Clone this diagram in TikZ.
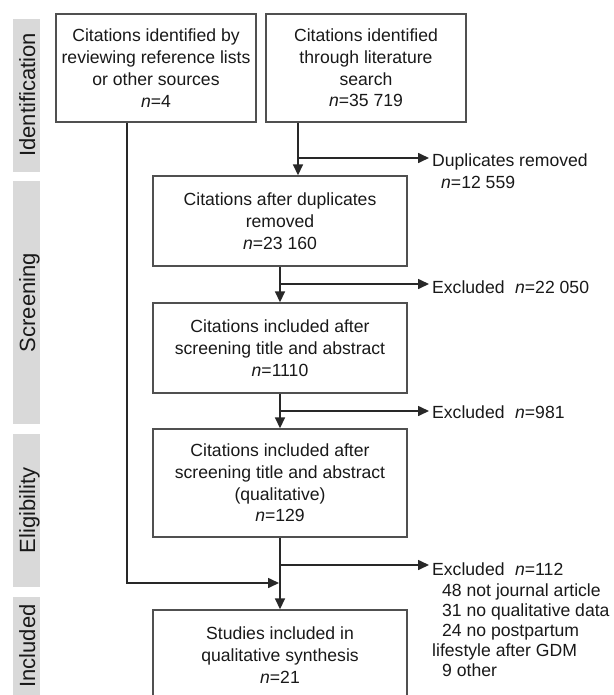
\documentclass[tikz,border=0pt]{standalone}
\usepackage{fontspec}
\setmainfont{Liberation Sans}
\usetikzlibrary{arrows.meta}
\definecolor{barc}{RGB}{217,217,217}
\definecolor{boxc}{RGB}{80,80,80}
\definecolor{linec}{RGB}{40,40,40}
\definecolor{txt}{RGB}{25,25,25}
\begin{document}
\begin{tikzpicture}[x=1pt,y=-1pt,
  box/.style={draw=boxc, line width=1.4pt, minimum width=200pt, minimum height=108pt, inner sep=0pt, align=center, font=\fontsize{17.6}{21.8}\selectfont, text=txt},
  wbox/.style={box, minimum width=254pt},
  arr/.style={draw=linec, line width=1.6pt, -{Triangle[length=11pt,width=10pt]}},
  bar/.style={fill=barc, draw=none},
  barlabel/.style={rotate=90, anchor=base, inner sep=0pt, font=\fontsize{22}{26}\selectfont, text=txt},
  side/.style={anchor=base west, inner sep=0pt, font=\fontsize{17.6}{20}\selectfont, text=txt}]
\useasboundingbox (0,0) rectangle (613,695);
\clip (0,0) rectangle (613,695);
\fill[white] (0,0) rectangle (613,695);
% phase bars
\fill[bar] (13,19) rectangle (40,172);
\fill[bar] (13,181) rectangle (40,424);
\fill[bar] (13,434) rectangle (40,587);
\fill[bar] (13,597) rectangle (40,700);
\node[barlabel] (L1) at (35,95) {Identification};
\node[barlabel] (L2) at (35,302.5) {Screening};
\node[barlabel] (L3) at (35,510.5) {Eligibility};
\node[barlabel] (L4) at (35,646) {Included};
% boxes
\node[box] (B1) at (156,68) {Citations identified by\\reviewing reference lists\\or other sources\\\textit{n}=4};
\node[box] (B2) at (366,68) {Citations identified\\through literature\\search\\\textit{n}=35 719};
\node[wbox, minimum height=90pt] (B3) at (280,221) {Citations after duplicates\\removed\\\textit{n}=23 160};
\node[wbox, minimum height=90pt] (B4) at (280,348) {Citations included after\\screening title and abstract\\\textit{n}=1110};
\node[wbox, minimum height=108pt] (B5) at (280,483) {Citations included after\\screening title and abstract\\(qualitative)\\\textit{n}=129};
\node[wbox, minimum height=90pt] (B6) at (280,655) {Studies included in\\qualitative synthesis\\\textit{n}=21};
% helper coordinates
\coordinate (lx) at (127,0);
\coordinate (rx) at (298,0);
\coordinate (ex) at (429,0);
\coordinate (j0) at (298,158);
\coordinate (j1) at (280,284);
\coordinate (j2) at (280,411);
\coordinate (j3) at (280,565);
\coordinate (j4) at (280,583);
% side texts
\node[side] (D1) at (432,167) {Duplicates removed};
\node[side] (D2) at (441,188) {\textit{n}=12 559};
\node[side] (E1) at (432,293) {Excluded\hspace{0.6em}\textit{n}=22 050};
\node[side] (E2) at (432,418) {Excluded\hspace{0.6em}\textit{n}=981};
\node[side] (E3) at (432,575) {Excluded\hspace{0.6em}\textit{n}=112};
\node[side] (E4) at (442,596) {48 not journal article};
\node[side] (E5) at (442,616) {31 no qualitative data};
\node[side] (E6) at (442,636) {24 no postpartum};
\node[side] (E7) at (432,656) {lifestyle after GDM};
\node[side] (E8) at (442,676) {9 other};
% connectors
\draw[arr] (rx |- B2.south) -- (rx |- B3.north);
\draw[arr] (j0) -- (ex |- j0);
\draw[arr] (B3.south) -- (B4.north);
\draw[arr] (j1) -- (ex |- j1);
\draw[arr] (B4.south) -- (B5.north);
\draw[arr] (j2) -- (ex |- j2);
\draw[arr] (B5.south) -- (B6.north);
\draw[arr] (j3) -- (ex |- j3);
\draw[arr, shorten >=1pt] (lx |- B1.south) |- (j4);
\end{tikzpicture}
\end{document}
